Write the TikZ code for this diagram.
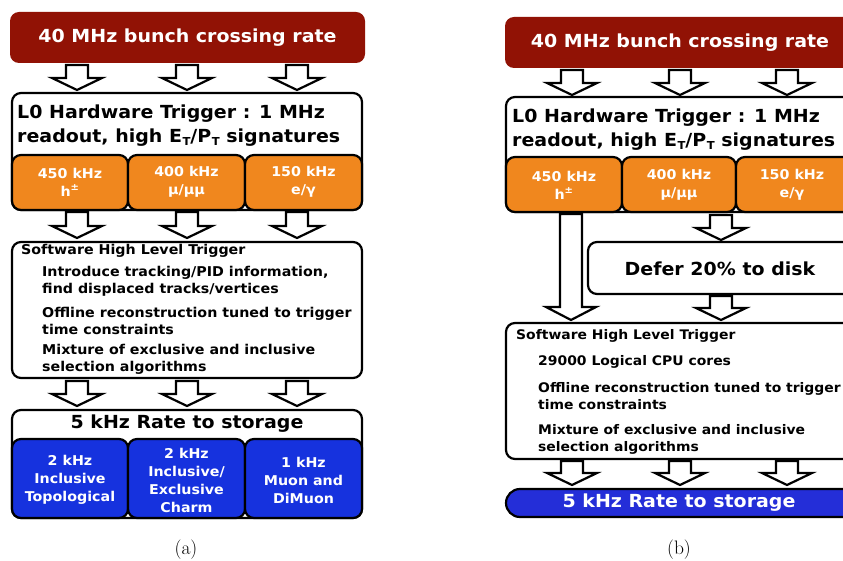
\documentclass[tikz,border=0pt]{standalone}
\usepackage{fontspec}
\newfontfamily\dv[FakeStretch=1.055]{DejaVu Sans}
\definecolor{lhcbred}{RGB}{145,18,5}
\definecolor{lhcborange}{RGB}{240,135,30}
\definecolor{lhcbblue}{RGB}{22,50,222}
\definecolor{lhcbblueb}{RGB}{36,46,216}
\tikzset{
  boxsty/.style={draw=black,line width=2.2pt,rounded corners=9pt},
  redbox/.style={fill=lhcbred,rounded corners=9pt},
  orangebox/.style={boxsty,fill=lhcborange},
  bluebox/.style={boxsty,fill=lhcbblue},
  whitebox/.style={boxsty,fill=white},
  arrowsty/.style={draw=black,fill=white,line width=2.2pt,line join=miter},
  bigtxt/.style={font=\dv\bfseries\fontsize{18}{24}\selectfont,inner sep=0pt},
  smalltxt/.style={font=\dv\bfseries\fontsize{13.5}{17}\selectfont,inner sep=0pt},
  smalltxtb/.style={font=\dv\bfseries\fontsize{13.2}{17}\selectfont,inner sep=0pt},
  boxtxt/.style={font=\dv\bfseries\fontsize{13.5}{18}\selectfont,inner sep=0pt,align=center,text=white},
  captxt/.style={font=\fontsize{19.5}{22}\selectfont,inner sep=0pt},
}
\newcommand\blkarrow[4]{%
  \draw[arrowsty] (#1-11,#2) -- (#1+11,#2) -- (#1+11,#3) -- (#1+25,#3) -- (#1,#4) -- (#1-25,#3) -- (#1-11,#3) -- cycle;}
\newcommand\subT{\kern0.5pt\raisebox{-0.12em}{\fontsize{11}{11}\selectfont T}}
\begin{document}
\begin{tikzpicture}[x=1pt,y=-1pt]
\path[use as bounding box] (0,0) rectangle (843,561);
\clip (0,0) rectangle (843,561);
\fill[white] (0,0) rectangle (843,561);
% ================= panel (a) =================
\fill[redbox] (10,12) rectangle (365,63);
\node[bigtxt,text=white] (aRed) at (187.5,37.5) {40 MHz bunch crossing rate};
\blkarrow{77}{65}{78}{90}
\blkarrow{187}{65}{78}{90}
\blkarrow{297}{65}{78}{90}
\draw[whitebox] (12,93) rectangle (362,210);
\node[bigtxt,anchor=west,align=left] (aL0) at (17,126) {L0 Hardware Trigger : 1 MHz\\readout, high E\subT/P\subT\ signatures};
\draw[orangebox] (12,155) rectangle (128,210);
\draw[orangebox] (128,155) rectangle (245,210);
\draw[orangebox] (245,155) rectangle (362,210);
\node[boxtxt] (aO1) at (70,182) {450 kHz\\h\textsuperscript{±}};
\node[boxtxt] (aO2) at (186.5,182) {400 kHz\\μ/μμ};
\node[boxtxt] (aO3) at (303.5,182) {150 kHz\\e/γ};
\blkarrow{77}{212}{226}{238}
\blkarrow{187}{212}{226}{238}
\blkarrow{297}{212}{226}{238}
\draw[whitebox] (12,242) rectangle (362,378);
\node[smalltxt,anchor=west] (aHLT) at (21,251) {Software High Level Trigger};
\node[smalltxt,anchor=west,align=left] (aB1) at (42,281.5) {Introduce tracking/PID information,\\find displaced tracks/vertices};
\node[smalltxt,anchor=west,align=left] (aB2) at (42,320.5) {Offline reconstruction tuned to trigger\\time constraints};
\node[smalltxt,anchor=west,align=left] (aB3) at (42,359.5) {Mixture of exclusive and inclusive\\selection algorithms};
\blkarrow{77}{381}{394}{406}
\blkarrow{187}{381}{394}{406}
\blkarrow{297}{381}{394}{406}
\draw[whitebox] (12,410) rectangle (362,518);
\node[bigtxt] (aStore) at (187,424) {5 kHz Rate to storage};
\draw[bluebox] (12,439) rectangle (128,518);
\draw[bluebox] (128,439) rectangle (245,518);
\draw[bluebox] (245,439) rectangle (362,518);
\node[boxtxt] (aS1) at (70,480) {2 kHz\\Inclusive\\Topological};
\node[boxtxt] (aS2) at (186.5,480) {2 kHz\\Inclusive/\\Exclusive\\Charm};
\node[boxtxt] (aS3) at (303.5,480) {1 kHz\\Muon and\\DiMuon};
\node[captxt] (capA) at (186,550) {(a)};
% ================= panel (b) =================
\fill[redbox] (505,17) rectangle (857,68);
\node[bigtxt,text=white] (bRed) at (680,42.5) {40 MHz bunch crossing rate};
\blkarrow{572}{70}{83}{95}
\blkarrow{680}{70}{83}{95}
\blkarrow{787}{70}{83}{95}
\draw[whitebox] (506,97) rectangle (856,212);
\node[bigtxt,anchor=west,align=left] (bL0) at (512,130) {L0 Hardware Trigger : 1 MHz\\readout, high E\subT/P\subT\ signatures};
\draw[orangebox] (506,157) rectangle (622,212);
\draw[orangebox] (622,157) rectangle (736,212);
\draw[orangebox] (736,157) rectangle (856,212);
\node[boxtxt] (bO1) at (564,185) {450 kHz\\h\textsuperscript{±}};
\node[boxtxt] (bO2) at (679,185) {400 kHz\\μ/μμ};
\node[boxtxt] (bO3) at (792,185) {150 kHz\\e/γ};
\blkarrow{571}{214}{307}{320}
\blkarrow{721}{215}{228}{240}
\draw[whitebox] (588,242) rectangle (856,294);
\node[bigtxt] (bDefer) at (720,269) {Defer 20\% to disk};
\blkarrow{721}{296}{308}{320}
\draw[whitebox] (506,323) rectangle (856,459);
\node[smalltxtb,anchor=west] (bHLT) at (516,336) {Software High Level Trigger};
\node[smalltxtb,anchor=west] (bB1) at (538,362) {29000 Logical CPU cores};
\node[smalltxtb,anchor=west,align=left] (bB2) at (538,396.5) {Offline reconstruction tuned to trigger\\time constraints};
\node[smalltxtb,anchor=west,align=left] (bB3) at (538,439.5) {Mixture of exclusive and inclusive\\selection algorithms};
\blkarrow{572}{461}{473}{485}
\blkarrow{680}{461}{473}{485}
\blkarrow{787}{461}{473}{485}
\draw[boxsty,fill=lhcbblueb,rounded corners=14pt] (506,489) rectangle (870,517);
\node[bigtxt,text=white] (bStore) at (679,503) {5 kHz Rate to storage};
\node[captxt] (capB) at (679,550) {(b)};
\end{tikzpicture}
\end{document}
